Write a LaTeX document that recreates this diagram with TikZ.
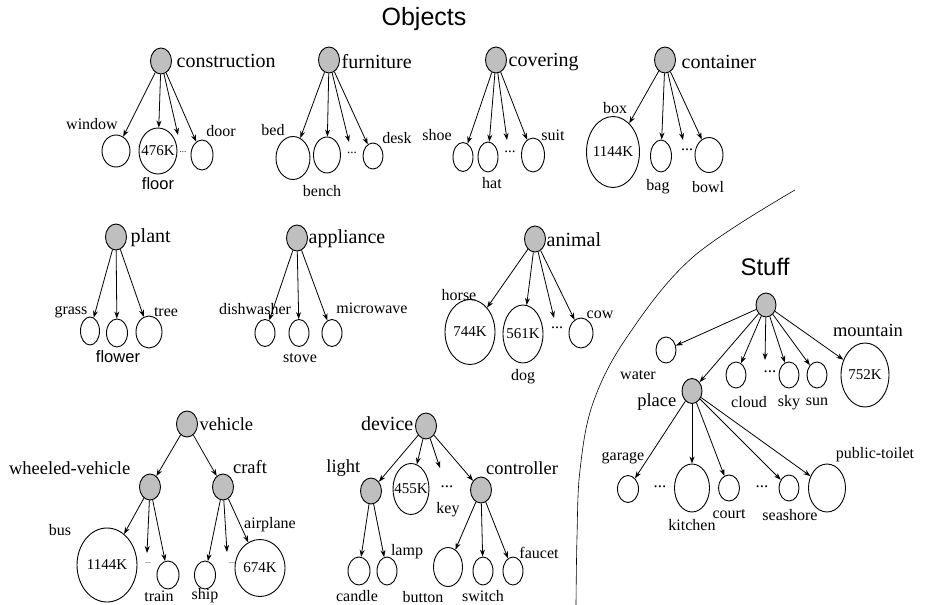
\documentclass[tikz,border=0pt]{standalone}
\usepackage{fontspec}
\setmainfont{Liberation Serif}
\setsansfont{Liberation Sans}
\usetikzlibrary{shapes.geometric,arrows.meta}

\begin{document}
\begin{tikzpicture}[x=1pt,y=-1pt,
    cls/.style={draw,ellipse,fill=black!25,line width=0.9pt,minimum width=21pt,minimum height=26pt,inner sep=0pt},
    leaf/.style 2 args={draw,ellipse,line width=0.9pt,minimum width=#1pt,minimum height=#2pt,inner sep=0pt},
    big/.style={font=\fontsize{20}{22}\selectfont,inner sep=0.5pt},
    mid/.style={font=\fontsize{18.5}{20}\selectfont,inner sep=0.5pt},
    lbl/.style={font=\fontsize{16}{18}\selectfont,inner sep=0.5pt},
    num/.style={font=\fontsize{15}{16}\selectfont,inner sep=0pt},
    sans/.style={font=\sffamily\fontsize{16.5}{18}\selectfont,inner sep=0.5pt},
    dots/.style={font=\fontsize{#1}{#1}\selectfont,inner sep=0pt},
    arr/.style={-{Stealth[length=7pt,width=5pt]},line width=0.8pt}]
    \useasboundingbox (0,0) rectangle (930,605);

    % Objects
    \node[font=\sffamily\fontsize{25}{28}\selectfont] (objects) at (424,19) {Objects};

    % construction
    \node[cls] (cons) at (161,61) {};
    \node[big,anchor=west] (cons-l) at (176,61) {construction};
    \node[leaf={28}{32}] (window) at (116,151) {};
    \node[leaf={38}{46}] (floor) at (158,151) {};
    \node[num] (floor-n) at (floor) {476K};
    \node[leaf={22}{30}] (door) at (202,155) {};
    \coordinate (cons-e) at (178,135);
    \node[dots=9] (cons-d) at (183,152) {...};
    \node[lbl] (window-l) at (92,124) {window};
    \node[sans] (floor-l) at (158,184) {floor};
    \node[lbl] (door-l) at (221,131) {door};
    \draw[arr] (cons) -- (window);
    \draw[arr] (cons) -- (floor);
    \draw[arr] (cons) -- (cons-e);
    \draw[arr] (cons) -- (door);

    % furniture
    \node[cls] (furn) at (329,60) {};
    \node[big,anchor=west] (furn-l) at (341,62) {furniture};
    \node[leaf={34}{43}] (bed) at (293,158) {};
    \node[leaf={27}{36}] (bench) at (327,155) {};
    \node[leaf={20}{26}] (desk) at (373,156) {};
    \coordinate (furn-e) at (349,142);
    \node[dots=13] (furn-d) at (352,153) {...};
    \node[lbl] (bed-l) at (273,130) {bed};
    \node[lbl] (bench-l) at (322,191) {bench};
    \node[lbl] (desk-l) at (397,138) {desk};
    \draw[arr] (furn) -- (bed);
    \draw[arr] (furn) -- (bench);
    \draw[arr] (furn) -- (furn-e);
    \draw[arr] (furn) -- (desk);

    % covering
    \node[cls] (cov) at (496,60) {};
    \node[big,anchor=west] (cov-l) at (508,62) {covering};
    \node[leaf={20}{29}] (shoe) at (463,157) {};
    \node[leaf={20}{30}] (hat) at (488,157) {};
    \node[leaf={23}{34}] (suit) at (533,155) {};
    \coordinate (cov-e) at (507,140);
    \node[dots=15] (cov-d) at (510,152) {...};
    \node[lbl] (shoe-l) at (437,135) {shoe};
    \node[lbl] (hat-l) at (492,183) {hat};
    \node[lbl] (suit-l) at (553,135) {suit};
    \draw[arr] (cov) -- (shoe);
    \draw[arr] (cov) -- (hat);
    \draw[arr] (cov) -- (cov-e);
    \draw[arr] (cov) -- (suit);

    % container
    \node[cls] (cont) at (665,60) {};
    \node[big,anchor=west] (cont-l) at (681,62) {container};
    \node[leaf={53}{71}] (box) at (613,152) {};
    \node[num] (box-n) at (box) {1144K};
    \node[leaf={21}{32}] (bag) at (661,156) {};
    \node[leaf={28}{35}] (bowl) at (709,155) {};
    \coordinate (cont-e) at (683,140);
    \node[dots=16] (cont-d) at (687,150) {...};
    \node[lbl] (box-l) at (615,108) {box};
    \node[lbl] (bag-l) at (658,187) {bag};
    \node[lbl] (bowl-l) at (708,187) {bowl};
    \draw[arr] (cont) -- (box);
    \draw[arr] (cont) -- (bag);
    \draw[arr] (cont) -- (cont-e);
    \draw[arr] (cont) -- (bowl);

    % plant
    \node[cls] (plant) at (116,237) {};
    \node[big,anchor=west] (plant-l) at (130,238) {plant};
    \node[leaf={19}{28}] (grass) at (90,331) {};
    \node[leaf={21}{28}] (flower) at (117,333) {};
    \node[leaf={26}{32}] (tree) at (149,332) {};
    \node[lbl] (grass-l) at (71,312) {grass};
    \node[sans] (flower-l) at (118,357) {flower};
    \node[lbl] (tree-l) at (166,312) {tree};
    \draw[arr] (plant) -- (grass);
    \draw[arr] (plant) -- (flower);
    \draw[arr] (plant) -- (tree);

    % appliance
    \node[cls] (appl) at (297,238) {};
    \node[big,anchor=west] (appl-l) at (308,239) {appliance};
    \node[leaf={20}{27}] (dishwasher) at (265,333) {};
    \node[leaf={20}{27}] (stove) at (299,333) {};
    \node[leaf={20}{27}] (microwave) at (332,333) {};
    \node[lbl] (dishwasher-l) at (255,309) {dishwasher};
    \node[lbl] (stove-l) at (300,358) {stove};
    \node[lbl] (microwave-l) at (372,308) {microwave};
    \draw[arr] (appl) -- (dishwasher);
    \draw[arr] (appl) -- (stove);
    \draw[arr] (appl) -- (microwave);

    % animal
    \node[cls] (anim) at (535,239) {};
    \node[big,anchor=west] (anim-l) at (546,240) {animal};
    \node[leaf={50}{65}] (horse) at (470,332) {};
    \node[num] (horse-n) at (horse) {744K};
    \node[leaf={40}{58}] (dog) at (523,334) {};
    \node[num] (dog-n) at (dog) {561K};
    \node[leaf={24}{30}] (cow) at (581,333) {};
    \coordinate (anim-e) at (554,318);
    \node[dots=16] (anim-d) at (557,328) {...};
    \node[lbl] (horse-l) at (459,295) {horse};
    \node[lbl] (dog-l) at (523,377) {dog};
    \node[lbl] (cow-l) at (600,315) {cow};
    \draw[arr] (anim) -- (horse);
    \draw[arr] (anim) -- (dog);
    \draw[arr] (anim) -- (anim-e);
    \draw[arr] (anim) -- (cow);

    % vehicle
    \node[cls] (veh) at (187,424) {};
    \node[mid,anchor=west] (veh-l) at (199,424) {vehicle};
    \node[cls] (wheeled) at (150,487) {};
    \node[mid,anchor=east] (wheeled-l) at (131,468) {wheeled-vehicle};
    \node[cls] (craft) at (223,487) {};
    \node[mid] (craft-l) at (250,467) {craft};
    \node[leaf={60}{74}] (bus) at (107,565) {};
    \node[num] (bus-n) at (bus) {1144K};
    \node[leaf={22}{28}] (train) at (168,575) {};
    \node[leaf={21}{28}] (ship) at (205,575) {};
    \node[leaf={50}{57}] (airplane) at (260,568) {};
    \node[num] (airplane-n) at (airplane) {674K};
    \coordinate (wheeled-e) at (147,553);
    \coordinate (craft-e) at (227,552);
    \node[dots=8] (wheeled-d) at (148,563) {...};
    \node[dots=8] (craft-d) at (232,563) {...};
    \node[lbl] (bus-l) at (60,530) {bus};
    \node[lbl] (train-l) at (159,596) {train};
    \node[lbl] (ship-l) at (205,596) {ship};
    \node[lbl] (airplane-l) at (270,525) {airplane};
    \draw[arr] (veh) -- (wheeled);
    \draw[arr] (veh) -- (craft);
    \draw[arr] (wheeled) -- (bus);
    \draw[arr] (wheeled) -- (wheeled-e);
    \draw[arr] (wheeled) -- (train);
    \draw[arr] (craft) -- (ship);
    \draw[arr] (craft) -- (craft-e);
    \draw[arr] (craft) -- (airplane);

    % device
    \node[cls] (dev) at (426,426) {};
    \node[big,anchor=east] (dev-l) at (414,424) {device};
    \node[cls] (light) at (371,491) {};
    \node[mid,anchor=east] (light-l) at (361,468) {light};
    \node[leaf={36}{51}] (key) at (411,489) {};
    \node[num] (key-n) at (key) {455K};
    \node[cls] (ctrl) at (481,490) {};
    \node[mid] (ctrl-l) at (522,468) {controller};
    \coordinate (dev-e) at (440,468);
    \node[dots=17] (dev-d) at (447,487) {...};
    \node[lbl] (key-l) at (448,510) {key};
    \node[leaf={22}{28}] (candle) at (359,571) {};
    \node[leaf={20}{28}] (lamp) at (387,571) {};
    \node[leaf={29}{39}] (button) at (448,567) {};
    \node[leaf={20}{28}] (switch) at (483,571) {};
    \node[leaf={20}{28}] (faucet) at (513,571) {};
    \node[lbl] (candle-l) at (357,596) {candle};
    \node[lbl] (lamp-l) at (407,552) {lamp};
    \node[lbl] (button-l) at (423,597) {button};
    \node[lbl] (switch-l) at (483,596) {switch};
    \node[lbl] (faucet-l) at (539,553) {faucet};
    \draw[arr] (dev) -- (light);
    \draw[arr] (dev) -- (key);
    \draw[arr] (dev) -- (dev-e);
    \draw[arr] (dev) -- (ctrl);
    \draw[arr] (light) -- (candle);
    \draw[arr] (light) -- (lamp);
    \draw[arr] (ctrl) -- (button);
    \draw[arr] (ctrl) -- (switch);
    \draw[arr] (ctrl) -- (faucet);

    % border between objects and stuff
    \draw[line width=0.6pt] plot[smooth,tension=0.6] coordinates {(795,190) (693,257) (627,337) (593,403) (580,470) (577,537) (576,605)};

    % Stuff
    \node[font=\sffamily\fontsize{24}{28}\selectfont] (stuff-t) at (765,267) {Stuff};
    \node[cls,minimum width=20pt,minimum height=24pt] (stuff) at (766,305) {};
    \node[leaf={20}{26}] (water) at (666,350) {};
    \node[cls,minimum width=20pt,minimum height=25pt] (place) at (692,391) {};
    \node[mid,anchor=east] (place-l) at (677,402) {place};
    \node[leaf={20}{26}] (cloud) at (736,375) {};
    \node[leaf={20}{26}] (sky) at (789,375) {};
    \node[leaf={20}{26}] (sun) at (817,375) {};
    \node[leaf={48}{64}] (mountain) at (865,375) {};
    \node[num] (mountain-n) at (mountain) {752K};
    \coordinate (stuff-e) at (765,360);
    \node[dots=17] (stuff-d) at (770,372) {...};
    \node[lbl] (water-l) at (638,375) {water};
    \node[lbl] (cloud-l) at (749,402) {cloud};
    \node[lbl] (sky-l) at (789,403) {sky};
    \node[lbl] (sun-l) at (817,402) {sun};
    \node[mid] (mountain-l) at (868,330) {mountain};
    \draw[arr] (stuff) -- (water);
    \draw[arr] (stuff) -- (place);
    \draw[arr] (stuff) -- (cloud);
    \draw[arr] (stuff) -- (stuff-e);
    \draw[arr] (stuff) -- (sky);
    \draw[arr] (stuff) -- (sun);
    \draw[arr] (stuff) -- (mountain);

    % place
    \node[leaf={21}{27}] (garage) at (628,489) {};
    \node[leaf={35}{48}] (kitchen) at (692,488) {};
    \node[leaf={21}{26}] (court) at (729,488) {};
    \node[leaf={20}{26}] (seashore) at (789,488) {};
    \node[leaf={37}{48}] (toilet) at (827,488) {};
    \node[dots=17] (place-d1) at (660,487) {...};
    \node[dots=17] (place-d2) at (762,487) {...};
    \node[lbl] (garage-l) at (623,458) {garage};
    \node[lbl] (kitchen-l) at (692,525) {kitchen};
    \node[lbl] (court-l) at (729,514) {court};
    \node[lbl] (seashore-l) at (790,515) {seashore};
    \node[lbl] (toilet-l) at (875,455) {public-toilet};
    \draw[arr] (place) -- (garage);
    \draw[arr] (place) -- (kitchen);
    \draw[arr] (place) -- (court);
    \draw[arr] (place) -- (seashore);
    \draw[arr] (place) -- (toilet);
\end{tikzpicture}
\end{document}
